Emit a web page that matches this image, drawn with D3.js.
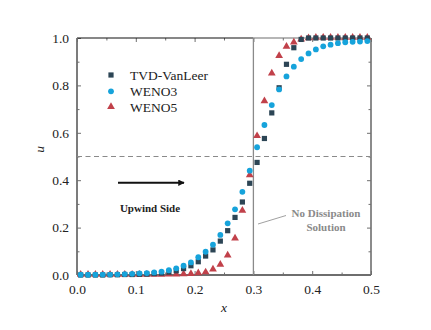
<!DOCTYPE html>
<html>
<head>
<meta charset="utf-8">
<script src="https://cdn.jsdelivr.net/npm/d3@7"></script>
<style>
  body { margin: 0; background: #fff; }
  text { font-family: "Liberation Serif", "Times New Roman", serif; }
</style>
</head>
<body>
<div id="chart"></div>
<script>
// cell centres
var xValues = [0.00625, 0.01875, 0.03125, 0.04375, 0.05625, 0.06875, 0.08125, 0.09375,
  0.10625, 0.11875, 0.13125, 0.14375, 0.15625, 0.16875, 0.18125, 0.19375,
  0.20625, 0.21875, 0.23125, 0.24375, 0.25625, 0.26875, 0.28125, 0.29375,
  0.30625, 0.31875, 0.33125, 0.34375, 0.35625, 0.36875, 0.38125, 0.39375,
  0.40625, 0.41875, 0.43125, 0.44375, 0.45625, 0.46875, 0.48125, 0.49375];

var tvd = [0, 0, 0, 0, 0.001, 0.001, 0.002, 0.002, 0.003, 0.004,
  0.006, 0.008, 0.012, 0.018, 0.027, 0.039, 0.056, 0.080, 0.106, 0.143,
  0.187, 0.243, 0.308, 0.387, 0.475, 0.576, 0.684, 0.790, 0.889, 0.959,
  0.994, 1, 1, 1, 1, 1, 1, 1, 1, 1];

var weno3 = [0.001, 0.001, 0.001, 0.002, 0.002, 0.003, 0.004, 0.005, 0.007, 0.008,
  0.011, 0.014, 0.020, 0.028, 0.039, 0.053, 0.075, 0.098, 0.128, 0.169,
  0.218, 0.277, 0.351, 0.440, 0.539, 0.633, 0.717, 0.783, 0.838, 0.879,
  0.911, 0.935, 0.952, 0.965, 0.972, 0.978, 0.982, 0.984, 0.985, 0.987];

var weno5 = [0, 0, 0, 0, 0, 0, 0, 0, 0, 0,
  0, 0, 0.001, 0.001, 0.002, 0.003, 0.006, 0.010, 0.022, 0.042,
  0.081, 0.153, 0.270, 0.420, 0.585, 0.732, 0.849, 0.923, 0.962, 0.980,
  0.993, 0.998, 1, 1, 1, 1, 1, 1, 1, 1];

var seriesNames = ["TVD-VanLeer", "WENO3", "WENO5"];
var xTicks = [0, 0.1, 0.2, 0.3, 0.4, 0.5];
var yTicks = [0, 0.2, 0.4, 0.6, 0.8, 1.0];

var svgWidth = 431, svgHeight = 330;
var margin = { top: 38, right: 60, bottom: 55, left: 77 };
var width = svgWidth - margin.left - margin.right;   // 294
var height = svgHeight - margin.top - margin.bottom; // 237

var svg = d3.select("#chart").append("svg")
  .attr("width", svgWidth)
  .attr("height", svgHeight);

var chartGroup = svg.append("g")
  .attr("transform", `translate(${margin.left}, ${margin.top})`);

var x = d3.scaleLinear().domain([0, 0.5]).range([0, width]);
var y = d3.scaleLinear().domain([0, 1]).range([height, 0]);

var axisColor = "#6e6e6e";

// minor / major inner ticks
function styleAxis(g) {
  g.select(".domain").remove();
  g.selectAll(".tick line").attr("stroke", axisColor).attr("stroke-width", 1);
  g.selectAll(".tick text")
    .attr("fill", "#222")
    .style("font-size", "13.5px");
}

// bottom axis
var bottom = chartGroup.append("g")
  .attr("transform", `translate(0, ${height})`)
  .call(d3.axisBottom(x).tickValues(xTicks).tickFormat(d3.format(".1f"))
    .tickSizeInner(-4).tickSizeOuter(0).tickPadding(9));
styleAxis(bottom);
chartGroup.append("g")
  .attr("transform", `translate(0, ${height})`)
  .call(d3.axisBottom(x).tickValues([0.05, 0.15, 0.25, 0.35, 0.45]).tickFormat("")
    .tickSizeInner(-2.5).tickSizeOuter(0))
  .call(styleAxis);

// left axis
var left = chartGroup.append("g")
  .call(d3.axisLeft(y).tickValues(yTicks).tickFormat(d3.format(".1f"))
    .tickSizeInner(-4).tickSizeOuter(0).tickPadding(8));
styleAxis(left);
chartGroup.append("g")
  .call(d3.axisLeft(y).tickValues([0.1, 0.3, 0.5, 0.7, 0.9]).tickFormat("")
    .tickSizeInner(-2.5).tickSizeOuter(0))
  .call(styleAxis);

// top axis
chartGroup.append("g")
  .call(d3.axisTop(x).tickValues(xTicks).tickFormat("").tickSizeInner(-4).tickSizeOuter(0))
  .call(styleAxis);
chartGroup.append("g")
  .call(d3.axisTop(x).tickValues([0.05, 0.15, 0.25, 0.35, 0.45]).tickFormat("")
    .tickSizeInner(-2.5).tickSizeOuter(0))
  .call(styleAxis);

// right axis
chartGroup.append("g")
  .attr("transform", `translate(${width}, 0)`)
  .call(d3.axisRight(y).tickValues(yTicks).tickFormat("").tickSizeInner(-4).tickSizeOuter(0))
  .call(styleAxis);
chartGroup.append("g")
  .attr("transform", `translate(${width}, 0)`)
  .call(d3.axisRight(y).tickValues([0.1, 0.3, 0.5, 0.7, 0.9]).tickFormat("")
    .tickSizeInner(-2.5).tickSizeOuter(0))
  .call(styleAxis);

// frame
chartGroup.append("line")
  .attr("x1", 0).attr("x2", x(0.3)).attr("y1", 0).attr("y2", 0)
  .attr("stroke", "#111").attr("stroke-width", 1.2);
chartGroup.append("line")
  .attr("x1", x(0.3)).attr("x2", width).attr("y1", 0).attr("y2", 0)
  .attr("stroke", axisColor).attr("stroke-width", 1.2);
chartGroup.append("line")
  .attr("x1", 0).attr("x2", 0).attr("y1", 0).attr("y2", height)
  .attr("stroke", axisColor).attr("stroke-width", 1.8);
chartGroup.append("line")
  .attr("x1", width).attr("x2", width).attr("y1", 0).attr("y2", height)
  .attr("stroke", axisColor).attr("stroke-width", 1.6);
chartGroup.append("line")
  .attr("x1", 0).attr("x2", width).attr("y1", height).attr("y2", height)
  .attr("stroke", axisColor).attr("stroke-width", 1.8);

// reference lines
chartGroup.append("line")
  .attr("x1", 0).attr("x2", width).attr("y1", y(0.5)).attr("y2", y(0.5))
  .attr("stroke", "#8a8a8a").attr("stroke-width", 1.1)
  .attr("stroke-dasharray", "5,3.5");
chartGroup.append("line")
  .attr("x1", x(0.3)).attr("x2", x(0.3)).attr("y1", 0).attr("y2", height)
  .attr("stroke", "#8a8a8a").attr("stroke-width", 1.3);

// axis labels
chartGroup.append("text")
  .attr("x", width / 2).attr("y", height + 37)
  .attr("text-anchor", "middle")
  .style("font-size", "13.5px").style("font-style", "italic")
  .attr("fill", "#222")
  .text("x");
chartGroup.append("text")
  .attr("transform", `translate(${-38}, ${y(0.53)}) rotate(-90)`)
  .attr("text-anchor", "middle")
  .attr("dy", "0.35em")
  .style("font-size", "13.5px").style("font-style", "italic")
  .attr("fill", "#222")
  .text("u");

// data
var colors = { tvd: "#2c4555", weno3: "#16a3db", weno5: "#c1414a" };
var tri = d3.symbol().type(d3.symbolTriangle).size(26);

chartGroup.append("g").selectAll("path")
  .data(xValues.map((d, i) => [d, weno5[i]]))
  .enter().append("path")
  .attr("d", tri)
  .attr("transform", d => `translate(${x(d[0])}, ${y(d[1]) - 0.5})`)
  .attr("fill", colors.weno5);

chartGroup.append("g").selectAll("rect")
  .data(xValues.map((d, i) => [d, tvd[i]]))
  .enter().append("rect")
  .attr("x", d => x(d[0]) - 2.6)
  .attr("y", d => y(d[1]) - 2.6)
  .attr("width", 5.2).attr("height", 5.2)
  .attr("fill", colors.tvd);

chartGroup.append("g").selectAll("circle")
  .data(xValues.map((d, i) => [d, weno3[i]]))
  .enter().append("circle")
  .attr("cx", d => x(d[0]))
  .attr("cy", d => y(d[1]))
  .attr("r", 2.9)
  .attr("fill", colors.weno3);

// legend
var legend = svg.append("g").attr("transform", "translate(111, 75)");
legend.append("rect").attr("x", -2.6).attr("y", -2.6).attr("width", 5.2).attr("height", 5.2)
  .attr("fill", colors.tvd);
legend.append("circle").attr("cx", 0).attr("cy", 16.3).attr("r", 2.9).attr("fill", colors.weno3);
legend.append("path").attr("d", tri).attr("transform", "translate(0, 31.8)").attr("fill", colors.weno5);
legend.selectAll("text")
  .data(seriesNames)
  .enter().append("text")
  .attr("x", 19)
  .attr("y", (d, i) => i * 16.1)
  .attr("dy", "0.35em")
  .style("font-size", "13.5px")
  .attr("fill", "#222")
  .text(d => d);

// arrow
var defs = svg.append("defs");
defs.append("marker")
  .attr("id", "arrowhead")
  .attr("viewBox", "0 0 10 10")
  .attr("refX", 9).attr("refY", 5)
  .attr("markerWidth", 4.2).attr("markerHeight", 3.2)
  .attr("markerUnits", "strokeWidth")
  .attr("orient", "auto")
  .append("path").attr("d", "M0,0 L10,5 L0,10 z").attr("fill", "#111");

svg.append("line")
  .attr("x1", 118).attr("x2", 184).attr("y1", 182.7).attr("y2", 182.7)
  .attr("stroke", "#111").attr("stroke-width", 2)
  .attr("marker-end", "url(#arrowhead)");

svg.append("text")
  .attr("x", 150).attr("y", 212)
  .attr("text-anchor", "middle")
  .style("font-size", "11px").style("font-weight", "bold")
  .attr("fill", "#222")
  .text("Upwind Side");

// annotation
svg.append("line")
  .attr("x1", 258).attr("y1", 224).attr("x2", 286).attr("y2", 215.5)
  .attr("stroke", "#888").attr("stroke-width", 0.8);
svg.append("text")
  .attr("x", 326).attr("y", 217)
  .attr("text-anchor", "middle")
  .style("font-size", "11px").style("font-weight", "bold")
  .attr("fill", "#8a8a8a")
  .text("No Dissipation");
svg.append("text")
  .attr("x", 326).attr("y", 230.5)
  .attr("text-anchor", "middle")
  .style("font-size", "11px").style("font-weight", "bold")
  .attr("fill", "#8a8a8a")
  .text("Solution");
</script>
</body>
</html>
